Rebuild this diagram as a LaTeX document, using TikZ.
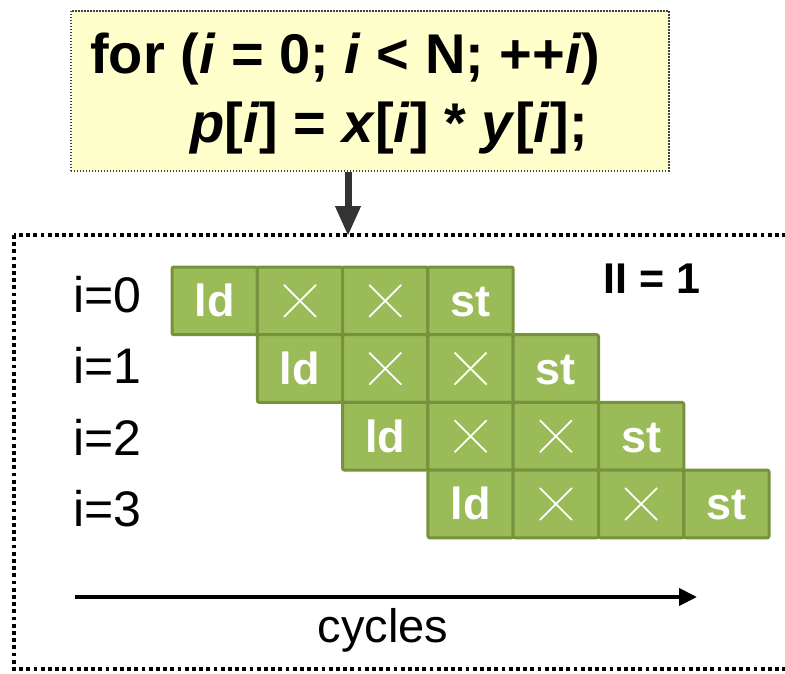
\documentclass[tikz,border=0pt]{standalone}
\usepackage{fontspec}
\setmainfont{Liberation Sans}
\usetikzlibrary{arrows.meta}
\definecolor{tilefill}{HTML}{9BBB59}
\definecolor{tileline}{HTML}{76923C}
\definecolor{codefill}{HTML}{FFFFCC}
\definecolor{arrowgray}{HTML}{333333}
\tikzset{
  codebox/.style={draw=black!75, fill=codefill, line width=1.5pt, dash pattern=on 1.5pt off 1.5pt, minimum width=598pt, minimum height=160pt, inner sep=0pt, anchor=north west},
  codetext/.style={anchor=base west, inner sep=0pt, font=\fontsize{56}{60}\selectfont\bfseries},
  tilebox/.style={draw=tileline, fill=tilefill, line width=3pt, rounded corners=2pt, minimum width=85.3pt, minimum height=67.7pt, inner sep=0pt},
  tiletext/.style={text=white, inner sep=0pt, font=\fontsize{45}{48}\selectfont\bfseries, text height=32pt, text depth=0pt},
  crossline/.style={draw=white, line width=1.8pt},
  rowlab/.style={anchor=base west, inner sep=0pt, font=\fontsize{50}{54}\selectfont},
  iilab/.style={anchor=base west, inner sep=0pt, font=\fontsize{43}{46}\selectfont\bfseries},
  cyclab/.style={anchor=base, inner sep=0pt, font=\fontsize{47}{50}\selectfont},
  frameline/.style={draw=black, line width=3.5pt, dash pattern=on 3.8pt off 3.4pt},
  downarrow/.style={draw=arrowgray, line width=7pt, -{Triangle[length=30pt,width=24pt]}},
  timearrow/.style={draw=black, line width=4pt, -{Triangle[length=18pt,width=17pt]}}
}
\begin{document}
\begin{tikzpicture}[x=1pt,y=-1pt]
\useasboundingbox (0,0) rectangle (785,673);
% outer dotted frame
\draw[frameline] (14,235) rectangle (830,669);
\coordinate (ftop) at (348,236);
% code box
\node[codebox] (code) at (70,10) {};
\node[codetext] (line1) at (90,73) {for (\textit{i} = 0; \textit{i} < N; ++\textit{i})};
\node[codetext] (line2) at (190,142) {\textit{p}[\textit{i}] = \textit{x}[\textit{i}] * \textit{y}[\textit{i}];};
\draw[downarrow] (code.south -| ftop) -- (ftop);
% tiles
\foreach \r in {0,...,3} {
  \foreach \c in {0,...,3} {
    \pgfmathsetmacro\xx{172+85.3*(\r+\c)+42.65}
    \pgfmathsetmacro\yy{267+67.7*\r+33.85}
    \node[tilebox] (t\r\c) at (\xx,\yy) {};
  }
}
\foreach \r in {0,...,3} {
  \node[tiletext] (ld\r) at (t\r0.center) {ld};
  \node[tiletext] (st\r) at (t\r3.center) {st};
  \foreach \c in {1,2} {
    \draw[crossline] ([shift={(-16,-16)}]t\r\c.center) -- ([shift={(16,16)}]t\r\c.center);
    \draw[crossline] ([shift={(-16,16)}]t\r\c.center) -- ([shift={(16,-16)}]t\r\c.center);
  }
}
% row labels
\foreach \r in {0,...,3} {
  \pgfmathsetmacro\yy{312+71.5*\r}
  \node[rowlab] (lab\r) at (73,\yy) {i=\r};
}
\node[iilab] (ii) at (603,293) {II = 1};
% cycles arrow
\coordinate (cs) at (75,597);
\coordinate (ce) at (697,597);
\draw[timearrow] (cs) -- (ce);
\node[cyclab] (cyc) at (383,642) {cycles};
\end{tikzpicture}
\end{document}
